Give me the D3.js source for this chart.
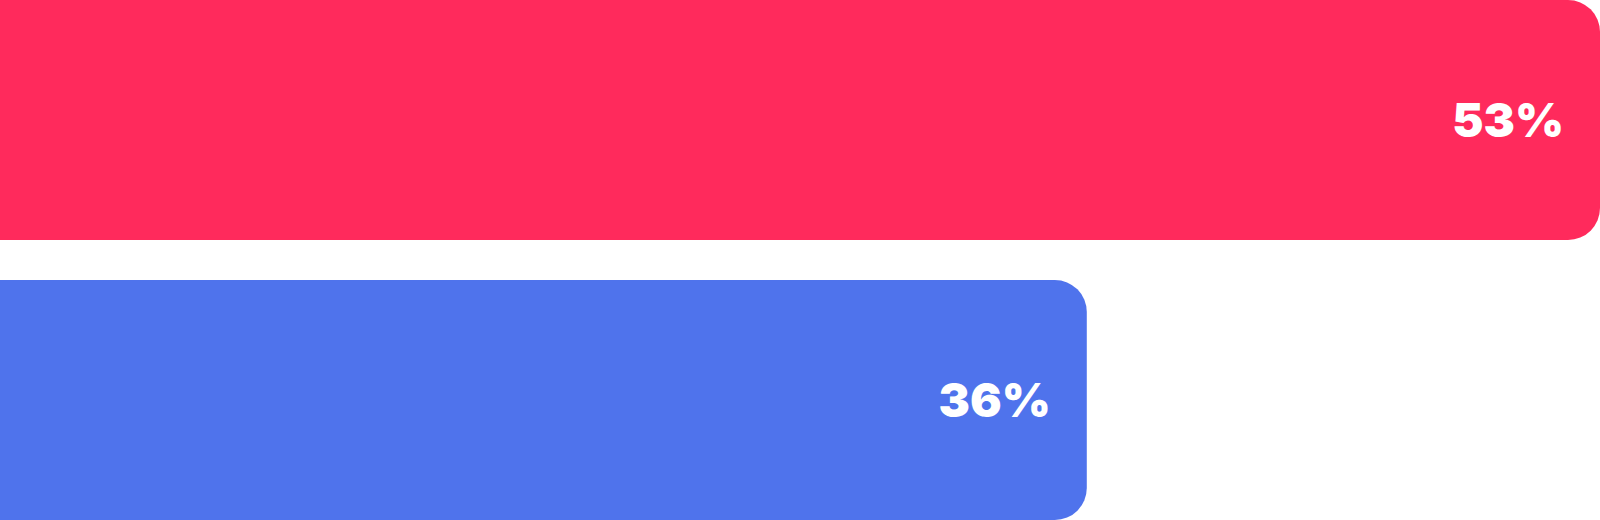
<html>
  <head>
    <meta charset="UTF-8" />
    <script src="https://d3js.org/d3.v7.min.js"></script>
    <style>
      body { margin: 0; background: white; }
    </style>
  </head>
  <body>
    <svg id="svg"></svg>
    <script>
      var categories = ["A", "B"];
      var values = [53, 36];
      var labels = ["53%", "36%"];
      var colors = ["#FF2A5C", "#4F73EC"];

      var width = 1600,
        height = 520,
        radius = 32;

      var svg = d3.select("#svg").attr("width", width).attr("height", height);

      var x = d3.scaleLinear().domain([0, d3.max(values)]).range([0, width]);
      var y = d3
        .scaleBand()
        .domain(categories)
        .range([0, height])
        .paddingInner(40 / 280);

      // bar with rounded right corners only
      function barPath(w, top, h) {
        var r = Math.min(radius, w);
        return (
          "M0," + top +
          "H" + (w - r) +
          "A" + r + "," + r + " 0 0 1 " + w + "," + (top + r) +
          "V" + (top + h - r) +
          "A" + r + "," + r + " 0 0 1 " + (w - r) + "," + (top + h) +
          "H0Z"
        );
      }

      var bars = svg
        .selectAll("g.bar")
        .data(categories)
        .enter()
        .append("g")
        .attr("class", "bar");

      bars
        .append("path")
        .attr("d", (d, i) => barPath(x(values[i]), y(d), y.bandwidth()))
        .attr("fill", (d, i) => colors[i]);

      bars
        .append("text")
        .attr("x", (d, i) => x(values[i]) - 36)
        .attr("y", (d) => y(d) + y.bandwidth() / 2)
        .attr("dy", "0.36em")
        .attr("text-anchor", "end")
        .attr("fill", "white")
        .style("font-family", "Inter, sans-serif")
        .style("font-weight", 900)
        .style("font-size", "47px")
        .text((d, i) => labels[i]);
    </script>
  </body>
</html>
